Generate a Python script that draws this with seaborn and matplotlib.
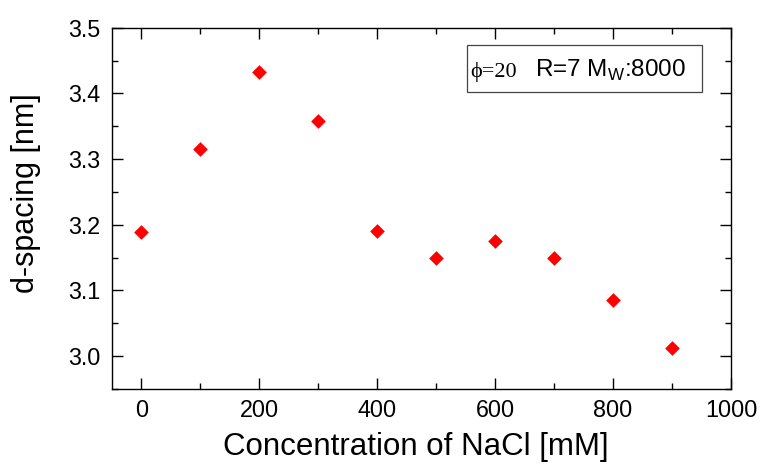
import matplotlib
matplotlib.use("Agg")
import matplotlib.pyplot as plt
import seaborn as sns
import pandas as pd
from matplotlib.ticker import MultipleLocator, FormatStrFormatter
from matplotlib.patches import Rectangle

# Data
nacl_mM = [0, 100, 200, 300, 400, 500, 600, 700, 800, 900]
d_spacing_nm = [3.189, 3.315, 3.432, 3.358, 3.190, 3.150, 3.176, 3.150, 3.085, 3.012]
x_label = "Concentration of NaCl [mM]"
y_label = "d-spacing [nm]"

df = pd.DataFrame({"x": nacl_mM, "y": d_spacing_nm})

sns.set_theme(style="white")
plt.rcParams["font.family"] = ["Liberation Sans", "DejaVu Sans"]
plt.rcParams["mathtext.fontset"] = "custom"
plt.rcParams["mathtext.rm"] = "Liberation Sans"
for k in ["text.color", "axes.labelcolor", "xtick.color", "ytick.color"]:
    plt.rcParams[k] = "black"

fig = plt.figure(figsize=(7.63, 4.65), dpi=100)
W, H = 763, 465
l, r, t, b = 111.7, 731, 27.7, 389
ax = fig.add_axes([l / W, 1 - b / H, (r - l) / W, (b - t) / H])

sns.scatterplot(data=df, x="x", y="y", ax=ax, marker="D", s=56,
                color="#ff0000", linewidth=0, zorder=3)

ax.set_xlim(-50, 1000)
ax.set_ylim(2.95, 3.5)
ax.xaxis.set_major_locator(MultipleLocator(200))
ax.xaxis.set_minor_locator(MultipleLocator(100))
ax.yaxis.set_major_locator(MultipleLocator(0.1))
ax.yaxis.set_minor_locator(MultipleLocator(0.05))
ax.yaxis.set_major_formatter(FormatStrFormatter("%.1f"))

for s in ax.spines.values():
    s.set_color("black")
    s.set_linewidth(1.0)

ax.tick_params(which="both", direction="in", top=True, right=True,
               bottom=True, left=True, color="black", width=1.0)
ax.tick_params(which="major", length=7.7, labelsize=16.8, pad=7)
ax.tick_params(which="minor", length=4.1)
ax.tick_params(axis="y", which="major", pad=8)

ax.set_xlabel(x_label, fontsize=22.5)
ax.set_ylabel(y_label, fontsize=22)
ax.xaxis.set_label_coords(0.491, -0.183)
ax.xaxis.label.set_va("baseline")
ax.yaxis.set_label_coords(-0.1255, 0.5425)
ax.yaxis.label.set_va("baseline")

# Annotation box
ax.add_patch(Rectangle((0.573, 0.821), 0.953 - 0.573, 0.952 - 0.821,
                       transform=ax.transAxes, fill=False,
                       edgecolor="#444444", linewidth=0.9, zorder=4))
ax.text(0.5786, 0.864, "\u03d5=20", transform=ax.transAxes, va="baseline",
        ha="left", fontsize=16,
        family=["Liberation Serif", "DejaVu Serif"], zorder=5)
ax.text(0.683, 0.864, r"R=7 M$_\mathregular{W}$:8000", transform=ax.transAxes,
        va="baseline", ha="left", fontsize=17.5, zorder=5)

fig.savefig("out.png", dpi=100)
